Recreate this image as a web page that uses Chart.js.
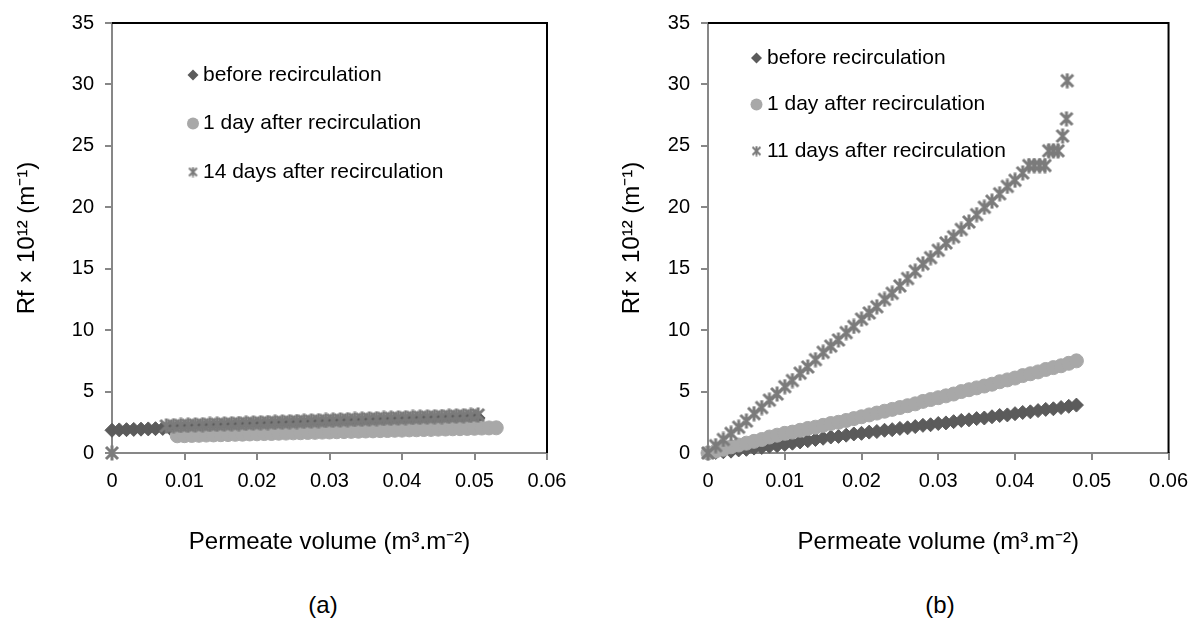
<!DOCTYPE html>
<html>
<head>
<meta charset="utf-8">
<script src="https://cdn.jsdelivr.net/npm/chart.js@4/dist/chart.umd.min.js"></script>
<style>
  body { margin: 0; background: #fff; width: 1197px; height: 619px; position: relative; overflow: hidden;
         font-family: "Liberation Sans", Arial, Helvetica, sans-serif; }
  canvas { position: absolute; top: 0; }
  #chartA { left: 0; }
  #chartB { left: 598px; }
  .panel { position: absolute; top: 591px; width: 100px; text-align: center; font-size: 24px; color: #000; }
</style>
</head>
<body>
<canvas id="chartA" width="598" height="575"></canvas>
<canvas id="chartB" width="599" height="575"></canvas>
<div class="panel" style="left:273px">(a)</div>
<div class="panel" style="left:890px">(b)</div>
<script>
// axis labels
const xTickLabels = ['0', '0.01', '0.02', '0.03', '0.04', '0.05', '0.06'];
const yTickLabels = ['0', '5', '10', '15', '20', '25', '30', '35'];
const namesA = ['before recirculation', '1 day after recirculation', '14 days after recirculation'];
const namesB = ['before recirculation', '1 day after recirculation', '11 days after recirculation'];

// (a) [permeate volume, Rf x 1e12]
const aBefore = [[0,1.85],[0.001,1.88],[0.002,1.9],[0.003,1.92],[0.004,1.94],[0.005,1.96],[0.006,1.98],[0.007,2.0],
  [0.008,2.02],[0.009,2.04],[0.010,2.06],[0.011,2.08],[0.012,2.1],[0.013,2.12],[0.014,2.14],[0.015,2.16],[0.016,2.18],
  [0.017,2.2],[0.018,2.21],[0.019,2.23],[0.020,2.25],[0.021,2.27],[0.022,2.29],[0.023,2.31],[0.024,2.33],[0.025,2.35],
  [0.026,2.37],[0.027,2.39],[0.028,2.41],[0.029,2.43],[0.030,2.45],[0.031,2.47],[0.032,2.49],[0.033,2.5],[0.034,2.52],
  [0.035,2.54],[0.036,2.56],[0.037,2.58],[0.038,2.6],[0.039,2.62],[0.040,2.64],[0.041,2.65],[0.042,2.67],[0.043,2.69],
  [0.044,2.71],[0.045,2.73],[0.046,2.74],[0.047,2.76],[0.048,2.78],[0.049,2.8],[0.050,2.82],[0.0505,2.85]];
const aOneDay = [[0.009,1.4],[0.010,1.41],[0.011,1.43],[0.012,1.44],[0.013,1.46],[0.014,1.47],[0.015,1.49],[0.016,1.5],
  [0.017,1.52],[0.018,1.53],[0.019,1.55],[0.020,1.56],[0.021,1.58],[0.022,1.59],[0.023,1.61],[0.024,1.62],[0.025,1.64],
  [0.026,1.65],[0.027,1.67],[0.028,1.68],[0.029,1.7],[0.030,1.71],[0.031,1.73],[0.032,1.74],[0.033,1.76],[0.034,1.77],
  [0.035,1.79],[0.036,1.8],[0.037,1.82],[0.038,1.83],[0.039,1.85],[0.040,1.86],[0.041,1.88],[0.042,1.89],[0.043,1.91],
  [0.044,1.92],[0.045,1.94],[0.046,1.95],[0.047,1.97],[0.048,1.98],[0.049,2.0],[0.050,2.01],[0.051,2.03],[0.052,2.04],
  [0.053,2.05]];
const aFourteenDays = [[0,0],[0.0075,2.2],[0.0085,2.22],[0.0095,2.24],[0.0105,2.26],[0.0115,2.28],[0.0125,2.3],
  [0.0135,2.32],[0.0145,2.34],[0.0155,2.36],[0.0165,2.38],[0.0175,2.4],[0.0185,2.42],[0.0195,2.44],[0.0205,2.46],
  [0.0215,2.48],[0.0225,2.5],[0.0235,2.52],[0.0245,2.54],[0.0255,2.56],[0.0265,2.58],[0.0275,2.6],[0.0285,2.63],
  [0.0295,2.65],[0.0305,2.67],[0.0315,2.69],[0.0325,2.71],[0.0335,2.73],[0.0345,2.75],[0.0355,2.77],[0.0365,2.79],
  [0.0375,2.81],[0.0385,2.83],[0.0395,2.85],[0.0405,2.87],[0.0415,2.89],[0.0425,2.91],[0.0435,2.93],[0.0445,2.95],
  [0.0455,2.97],[0.0465,2.99],[0.0475,3.01],[0.0485,3.03],[0.0495,3.06],[0.0505,3.1]];

// (b)
const bBefore = [[0,0],[0.001,0.05],[0.002,0.1],[0.003,0.15],[0.004,0.25],[0.005,0.3],[0.006,0.4],[0.007,0.45],
  [0.008,0.55],[0.009,0.6],[0.010,0.7],[0.011,0.8],[0.012,0.9],[0.013,1.0],[0.014,1.1],[0.015,1.2],[0.016,1.3],
  [0.017,1.35],[0.018,1.45],[0.019,1.55],[0.020,1.6],[0.021,1.7],[0.022,1.75],[0.023,1.85],[0.024,1.9],[0.025,2.0],
  [0.026,2.05],[0.027,2.15],[0.028,2.25],[0.029,2.3],[0.030,2.4],[0.031,2.45],[0.032,2.55],[0.033,2.65],[0.034,2.7],
  [0.035,2.8],[0.036,2.85],[0.037,2.95],[0.038,3.05],[0.039,3.1],[0.040,3.2],[0.041,3.3],[0.042,3.35],[0.043,3.45],
  [0.044,3.55],[0.045,3.6],[0.046,3.7],[0.047,3.8],[0.048,3.9]];
const bOneDay = [[0,0],[0.001,0.15],[0.002,0.3],[0.003,0.5],[0.004,0.65],[0.005,0.8],[0.006,0.95],[0.007,1.1],
  [0.008,1.3],[0.009,1.45],[0.010,1.6],[0.011,1.7],[0.012,1.85],[0.013,2.0],[0.014,2.1],[0.015,2.25],[0.016,2.4],
  [0.017,2.5],[0.018,2.65],[0.019,2.8],[0.020,2.95],[0.021,3.1],[0.022,3.25],[0.023,3.4],[0.024,3.55],[0.025,3.7],
  [0.026,3.85],[0.027,4.0],[0.028,4.2],[0.029,4.35],[0.030,4.5],[0.031,4.65],[0.032,4.8],[0.033,5.0],[0.034,5.15],
  [0.035,5.3],[0.036,5.45],[0.037,5.6],[0.038,5.8],[0.039,5.95],[0.040,6.1],[0.041,6.3],[0.042,6.45],[0.043,6.6],
  [0.044,6.8],[0.045,6.95],[0.046,7.1],[0.047,7.3],[0.048,7.5]];
const bElevenDays = [[0,0],[0.001,0.6],[0.002,1.1],[0.003,1.6],[0.004,2.1],[0.005,2.6],[0.006,3.2],[0.007,3.7],
  [0.008,4.3],[0.009,4.8],[0.010,5.4],[0.011,5.9],[0.012,6.5],[0.013,7.0],[0.014,7.6],[0.015,8.2],[0.016,8.7],
  [0.017,9.2],[0.018,9.8],[0.019,10.3],[0.020,10.9],[0.021,11.4],[0.022,11.9],[0.023,12.5],[0.024,13.0],[0.025,13.6],
  [0.026,14.2],[0.027,14.8],[0.028,15.4],[0.029,15.9],[0.030,16.5],[0.031,17.1],[0.032,17.6],[0.033,18.2],[0.034,18.8],
  [0.035,19.4],[0.036,20.0],[0.037,20.5],[0.038,21.1],[0.039,21.7],[0.040,22.2],[0.041,22.8],[0.0418,23.4],
  [0.0425,23.4],[0.0432,23.4],[0.0439,23.4],[0.0444,24.6],[0.045,24.6],[0.0456,24.6],[0.0462,25.8],[0.0467,27.2],
  [0.0468,30.3]];

const FONT = '"Liberation Sans", Arial, Helvetica, sans-serif';
const AXIS_GREY = '#878787';
const colBefore = '#5b5b5b';
const colOneDay = '#a8a8a8';
const colStar = '#7b7b7b';

// Excel style star marker (X with a vertical bar)
function makeStar(size, color, width) {
  const c = document.createElement('canvas');
  c.width = size; c.height = size;
  const g = c.getContext('2d');
  g.strokeStyle = color;
  g.lineWidth = width;
  const lo = width / 2 + 0.5, hi = size - width / 2 - 0.5;
  g.beginPath();
  g.moveTo(lo, lo); g.lineTo(hi, hi);
  g.moveTo(hi, lo); g.lineTo(lo, hi);
  g.moveTo(size / 2, 0.5); g.lineTo(size / 2, size - 0.5);
  g.stroke();
  return c;
}
const starMark = makeStar(16, colStar, 3);
const starKey = makeStar(11, colStar, 2);

const toPoints = rows => rows.map(r => ({ x: r[0], y: r[1] }));

// black top/right frame + the key inside the plot
const frameAndKey = {
  id: 'frameAndKey',
  afterDatasetsDraw(chart, args, opts) {
    const { ctx, chartArea: a } = chart;
    ctx.save();
    ctx.strokeStyle = '#000';
    ctx.lineWidth = 2;
    ctx.beginPath();
    ctx.moveTo(a.left, a.top);
    ctx.lineTo(a.right, a.top);
    ctx.lineTo(a.right, a.bottom);
    ctx.stroke();

    ctx.font = opts.fontSize + 'px ' + FONT;
    ctx.textBaseline = 'middle';
    chart.data.datasets.forEach((ds, i) => {
      const x = opts.x, y = opts.y + i * opts.gap;
      if (ds.pointStyle === 'rectRot') {
        ctx.fillStyle = ds.backgroundColor;
        ctx.beginPath();
        ctx.moveTo(x, y - 5.5); ctx.lineTo(x + 5.5, y); ctx.lineTo(x, y + 5.5); ctx.lineTo(x - 5.5, y);
        ctx.closePath();
        ctx.fill();
      } else if (ds.pointStyle === 'circle') {
        ctx.fillStyle = ds.backgroundColor;
        ctx.beginPath();
        ctx.arc(x, y, 6, 0, Math.PI * 2);
        ctx.fill();
      } else {
        ctx.drawImage(starKey, x - starKey.width / 2, y - starKey.height / 2);
      }
      ctx.fillStyle = '#000';
      ctx.fillText(ds.label, x + opts.textGap, y);
    });
    ctx.restore();
  }
};

function makeChart(id, sets, names, lay) {
  return new Chart(document.getElementById(id), {
    type: 'scatter',
    data: {
      datasets: [
        { label: names[0], data: toPoints(sets[0]), pointStyle: 'rectRot', pointRadius: 7,
          backgroundColor: colBefore, borderColor: colBefore, borderWidth: 1, order: 3, clip: false },
        { label: names[1], data: toPoints(sets[1]), pointStyle: 'circle', pointRadius: 7,
          backgroundColor: colOneDay, borderColor: colOneDay, borderWidth: 1, order: 2, clip: false },
        { label: names[2], data: toPoints(sets[2]), pointStyle: starMark, pointRadius: 8,
          backgroundColor: colStar, borderColor: colStar, order: 1, clip: false }
      ]
    },
    options: {
      responsive: false,
      animation: false,
      devicePixelRatio: 1,
      events: [],
      layout: { padding: { top: lay.top, right: lay.right, left: 0, bottom: 0 } },
      plugins: {
        legend: { display: false },
        tooltip: { enabled: false },
        frameAndKey: lay.key
      },
      scales: {
        x: {
          type: 'linear', min: 0, max: 0.06,
          afterFit: s => { s.height = 122; },
          ticks: { stepSize: 0.01, autoSkip: false, maxRotation: 0, padding: 9, color: '#000',
                   font: { size: 20, family: FONT }, callback: (v, i) => xTickLabels[i] },
          grid: { drawOnChartArea: false, drawTicks: true, tickLength: 7, color: AXIS_GREY, lineWidth: 2 },
          border: { color: AXIS_GREY, width: 2 },
          title: { display: true, text: 'Permeate volume (m³.m⁻²)', color: '#000',
                   font: { size: 24, family: FONT }, padding: { top: 0, bottom: 18 } }
        },
        y: {
          min: 0, max: 35,
          afterFit: s => { s.width = lay.yWidth; },
          ticks: { stepSize: 5, padding: 11, color: '#000', font: { size: 20, family: FONT },
                   callback: (v, i) => yTickLabels[i] },
          grid: { drawOnChartArea: false, drawTicks: true, tickLength: 7, color: AXIS_GREY, lineWidth: 2 },
          border: { color: AXIS_GREY, width: 2 },
          title: { display: true, text: 'Rf × 10¹² (m⁻¹)', color: '#000',
                   font: { size: 24, family: FONT }, padding: { top: lay.yTitlePad, bottom: 0 } }
        }
      }
    },
    plugins: [frameAndKey]
  });
}

makeChart('chartA', [aBefore, aOneDay, aFourteenDays], namesA,
  { top: 23, right: 51, yWidth: 112, yTitlePad: 13,
    key: { x: 193, y: 75, gap: 48.5, textGap: 10, fontSize: 21 } });
makeChart('chartB', [bBefore, bOneDay, bElevenDays], namesB,
  { top: 23, right: 27, yWidth: 110, yTitlePad: 20,
    key: { x: 158.5, y: 58, gap: 46.5, textGap: 10.5, fontSize: 21 } });
</script>
</body>
</html>
